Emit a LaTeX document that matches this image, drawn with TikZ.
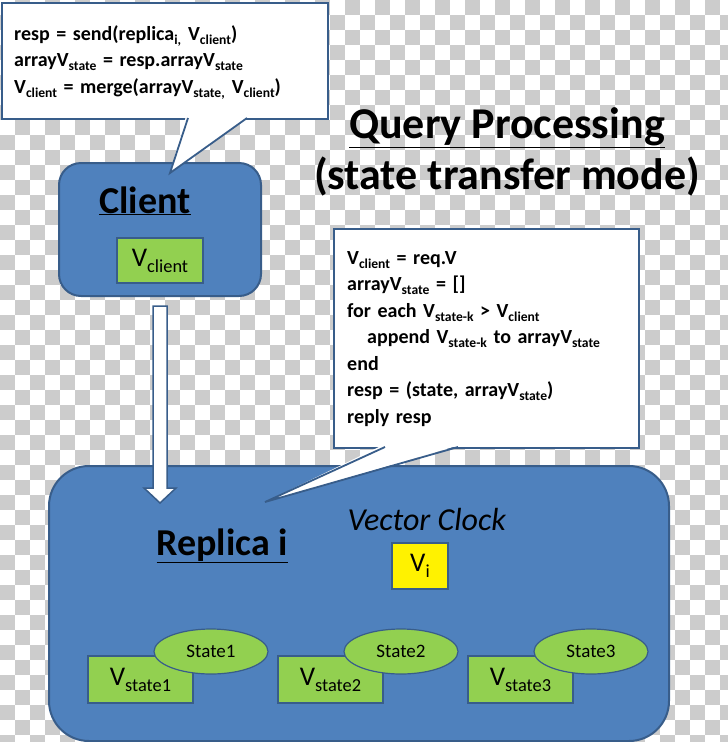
\documentclass[tikz,border=0pt]{standalone}
\usepackage{fontspec}
\setmainfont{Carlito}
\newfontfamily\codefont{Carlito}[WordSpace=1.45]
\usetikzlibrary{shapes.geometric,calc}

\definecolor{boxblue}{HTML}{4F81BD}
\definecolor{edgeblue}{HTML}{385D8A}
\definecolor{limegreen}{HTML}{92D050}
\definecolor{checkgray}{HTML}{CCCCCC}

\newcommand{\lo}[1]{\raisebox{-0.22em}{\scalebox{0.68}{#1}}}

\tikzset{
	panel/.style={draw=edgeblue, fill=boxblue, line width=2pt, inner sep=0pt, anchor=north west},
	bubble/.style={draw=edgeblue, fill=white, line width=1.8pt, inner sep=0pt, anchor=north west},
	% base of a multi-line node sits on its last line
	codetext/.style={anchor=base west, inner sep=0pt, align=left, font=\codefont\fontsize{20}{26.5}\selectfont\bfseries},
	vbox/.style={draw=edgeblue, fill=limegreen, line width=1.2pt, inner sep=0pt, font=\fontsize{27}{30}\selectfont},
	statenode/.style={ellipse, draw=edgeblue, fill=limegreen, line width=1.2pt, inner sep=0pt,
		minimum width=114, minimum height=45, font=\fontsize{19}{21}\selectfont},
	hollowarrow/.style={draw=edgeblue, fill=white, line width=1.5pt, line join=miter},
}

\begin{document}
\begin{tikzpicture}[x=1pt, y=-1pt]
	\useasboundingbox (0,0) rectangle (728,742);
	% transparency checkerboard
	\begin{scope}
		\clip (0,0) rectangle (728,742);
		\foreach \r in {0,...,49}{
			\pgfmathtruncatemacro{\s}{mod(\r+1,2)}
			\pgfmathtruncatemacro{\t}{\s+2}
			\foreach \c in {\s,\t,...,48}
				\fill[checkgray] (15*\c,15*\r) rectangle ++(15,15);
		}
	\end{scope}

	% title
	\node[font=\fontsize{44}{48}\selectfont\bfseries, anchor=base] (title) at (507,138) {\underline{Query Processing}};
	\node[font=\fontsize{44}{48}\selectfont\bfseries, anchor=base] (subtitle) at (507,189) {(state transfer mode)};

	% client
	\node[panel, rounded corners=22pt, minimum width=202, minimum height=133] (client) at (58,162) {};
	\node[font=\fontsize{38}{42}\selectfont\bfseries, anchor=base] (clientname) at (145,213) {\underline{Client}};
	\node[vbox, minimum width=86, minimum height=45] (vclient) at (160,260.5) {V\lo{client}};

	% client request code
	\node[bubble, minimum width=326, minimum height=116] (clientcode) at (1,2) {};
	\fill[white] (186,116) -- (170,173) -- (249,116) -- cycle;
	\draw[edgeblue, line width=1.8pt] (188,118) -- (170,173) -- (247,118);
	\node[codetext] (clientlines) at (14,93) {resp = send(replica\lo{i,}\hspace{7pt}V\lo{client})\\
		arrayV\lo{state} = resp.arrayV\lo{state}\\
		V\lo{client} = merge(arrayV\lo{state,}\hspace{7pt}V\lo{client})};

	% replica
	\node[panel, rounded corners=40pt, minimum width=620, minimum height=275] (replica) at (48,465) {};
	\node[font=\fontsize{38}{42}\selectfont\bfseries, anchor=base west] (replicaname) at (153,555) {\underline{Replica i}};
	\node[font=\fontsize{32}{36}\selectfont\itshape, anchor=base west] (clocklabel) at (344,530) {Vector Clock};
	\node[vbox, fill=yellow, minimum width=56, minimum height=46] (vi) at (420,566) {V\lo{i}};

	\foreach \k in {1,2,3}{
		\node[vbox, minimum width=105, minimum height=47] (vstate\k) at (140.5+190*\k-190,679.5) {V\lo{state\k}};
		\node[statenode] (state\k) at (211+190*\k-190,651.5) {State\k};
	}

	% request arrow
	\coordinate (arrowtop) at ($(client.south)+(0,9)$);
	\coordinate (arrowtip) at ($(client.south |- replica.north)+(0,38)$);
	\draw[hollowarrow] ($(arrowtop)+(-7,0)$) -- ($(arrowtip)+(-7,-15)$) -- ($(arrowtip)+(-16,-15)$)
		-- (arrowtip) -- ($(arrowtip)+(16,-15)$) -- ($(arrowtip)+(7,-15)$) -- ($(arrowtop)+(7,0)$) -- cycle;

	% replica reply code
	\node[bubble, minimum width=305, minimum height=219] (replicacode) at (333,228) {};
	\fill[white] (383,445) -- (265,502) -- (460,445) -- cycle;
	\draw[edgeblue, line width=1.8pt] (385,447) -- (265,502) -- (458,447);
	\node[codetext] (replicalines) at (347,423) {V\lo{client} = req.V\\
		arrayV\lo{state} = []\\
		for each V\lo{state-k} > V\lo{client}\\
		\hspace{20pt}append V\lo{state-k} to arrayV\lo{state}\\
		end\\
		resp = (state, arrayV\lo{state})\\
		reply resp};
\end{tikzpicture}
\end{document}
